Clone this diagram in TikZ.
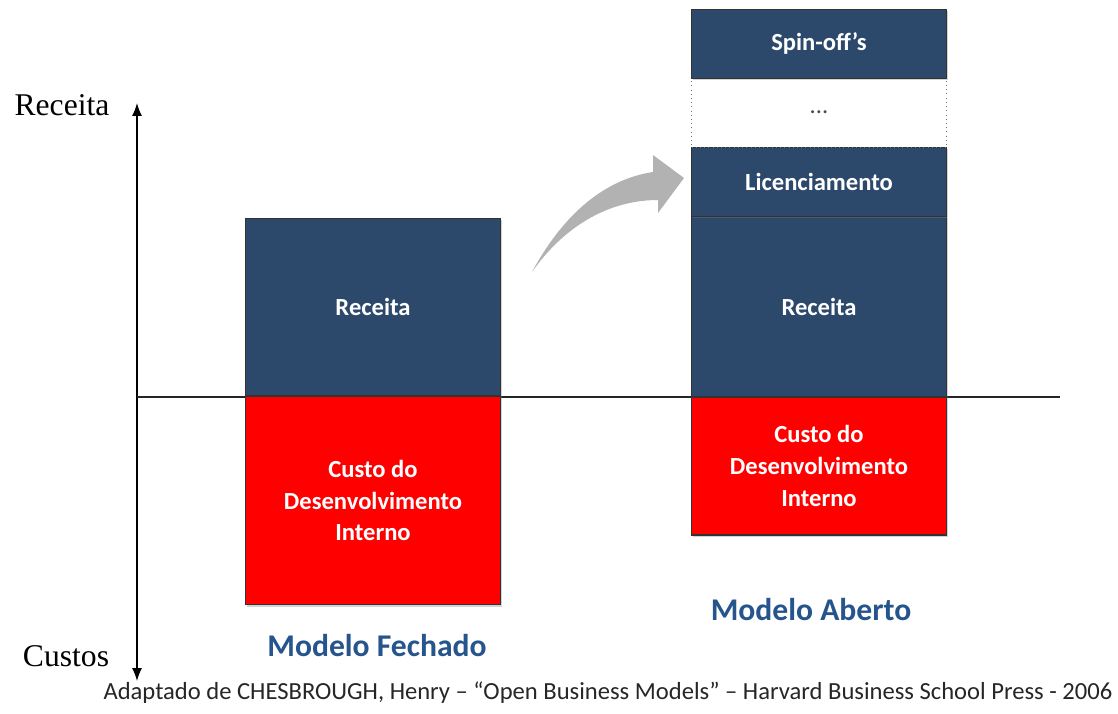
\documentclass[tikz,border=0pt]{standalone}
\usepackage{fontspec}
\setmainfont{Carlito}
\newfontfamily\axisfont{Liberation Serif}
\usepackage{xcolor}
\usetikzlibrary{arrows.meta, positioning, shadows}
\definecolor{barblue}{RGB}{44,73,108}
\definecolor{titleblue}{RGB}{38,84,140}
\definecolor{arrowgray}{RGB}{178,178,178}

\begin{document}
\begin{tikzpicture}[x=0.02cm, y=-0.02cm,
    % Estilo base para los bloques
    block/.style={
        rectangle,
        draw=black!80,
        semithick,
        minimum width=5.1cm,
        align=center,
        text=white,
        font=\fontsize{14}{18}\selectfont\bfseries,
        outer sep=0pt,
        drop shadow={opacity=0.35, shadow xshift=0.8pt, shadow yshift=-1.2pt}
    },
    receitabox/.style={block, fill=barblue},
    custobox/.style={block, fill=red},
    % Bloque vacio con borde punteado
    dotsbox/.style={
        rectangle,
        draw=black!55,
        dotted,
        fill=white,
        minimum width=5.1cm,
        minimum height=1.38cm,
        font=\fontsize{14}{18}\selectfont,
        text=black!70,
        outer sep=0pt
    },
    modelo/.style={font=\fontsize{18}{22}\selectfont\bfseries, text=titleblue},
    eixo/.style={font=\axisfont\fontsize{18}{22}\selectfont}
]

    % --- EJES ---
    \useasboundingbox (0,0) rectangle (1118,713);
    \coordinate (axtop) at (137,103);
    \coordinate (axbot) at (137,681);
    \coordinate (base0) at (137,397);
    \coordinate (base1) at (1060,397);
    \draw[line width=0.8pt, {Latex[length=2.6mm, width=2mm]}-{Latex[length=2.6mm, width=2mm]}] (axbot) -- (axtop);
    \draw[line width=0.6pt, black!85] (base0) -- (base1);
    \node[eixo] (lreceita) at (62,105) {Receita};
    \node[eixo] (lcustos) at (66,656) {Custos};

    % --- MODELO FECHADO ---
    \node[receitabox, minimum height=3.56cm, anchor=south] (freceita) at (373,396) {Receita};
    \node[custobox, minimum height=4.18cm, below=0cm of freceita] (fcusto) {Custo do\\Desenvolvimento\\Interno};
    \node[modelo] (fechado) at (377,646) {Modelo Fechado};

    % --- MODELO ABERTO ---
    \node[receitabox, minimum height=3.62cm, anchor=south] (areceita) at (819,397) {Receita};
    \node[custobox, minimum height=2.76cm, below=0cm of areceita] (acusto) {Custo do\\Desenvolvimento\\Interno};
    \node[receitabox, minimum height=1.38cm, above=0cm of areceita] (licenc) {Licenciamento};
    \node[dotsbox, above=0cm of licenc] (outros) {...};
    \node[receitabox, minimum height=1.38cm, above=0cm of outros] (spinoff) {Spin-off's};
    \node[modelo] (aberto) at (811,610) {Modelo Aberto};

    % --- SETA CURVA ---
    \fill[arrowgray] (532,272) .. controls (560,220) and (600,180) .. (653,172)
        -- (653,155) -- (684,178) -- (658,213) -- (658,200)
        .. controls (610,200) and (565,225) .. (532,272) -- cycle;

    % --- FONTE ---
    \node[font=\fontsize{14}{16}\selectfont, text=black!85] (fonte) at (608,693)
        {Adaptado de CHESBROUGH, Henry -- ``Open Business Models'' -- Harvard Business School Press - 2006};

\end{tikzpicture}
\end{document}
